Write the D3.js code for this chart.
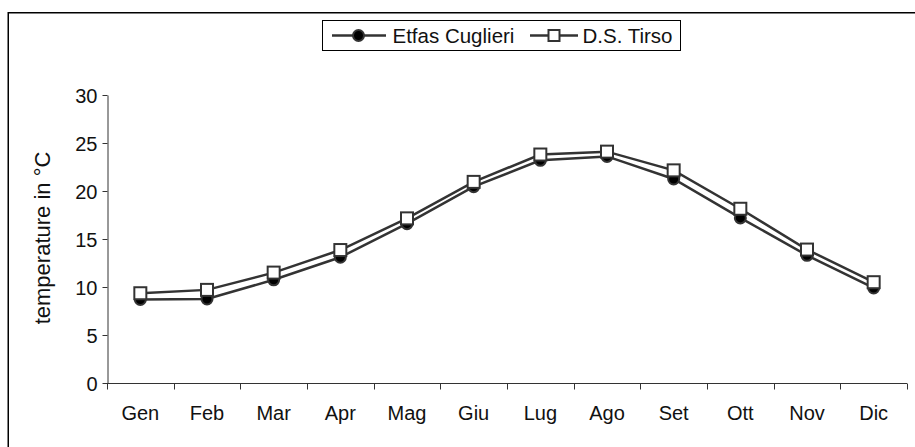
<!DOCTYPE html>
<html>
<head>
<meta charset="utf-8">
<script src="https://cdn.jsdelivr.net/npm/d3@7"></script>
<style>
  body { margin: 0; background: #fff; }
  svg { display: block; font-family: "Liberation Sans", Arial, sans-serif; }
</style>
</head>
<body>
<svg id="chart" width="915" height="447"></svg>
<script>
// DATA
var months = ['Gen', 'Feb', 'Mar', 'Apr', 'Mag', 'Giu', 'Lug', 'Ago', 'Set', 'Ott', 'Nov', 'Dic'];
var cuglieri = [8.7, 8.75, 10.75, 13.1, 16.6, 20.45, 23.2, 23.6, 21.25, 17.2, 13.3, 9.9];
var tirso = [9.35, 9.7, 11.5, 13.85, 17.15, 20.95, 23.8, 24.1, 22.15, 18.15, 13.9, 10.5];
var yTicks = [0, 5, 10, 15, 20, 25, 30];

var svg = d3.select('#chart');
var lineColor = '#333333';

// Outer frame (runs off the right/bottom edges)
svg.append('rect')
   .attr('x', 8.25)
   .attr('y', 12.75)
   .attr('width', 960)
   .attr('height', 500)
   .style('fill', 'none')
   .style('stroke', '#000')
   .style('stroke-width', 1.5);

// SCALES
var x = d3.scaleBand()
          .domain(months)
          .range([107, 907])
          .padding(0);
var y = d3.scaleLinear()
          .domain([0, 30])
          .range([383, 95]);

// Y-AXIS
var yAxis = svg.append('g')
               .attr('transform', 'translate(107.5,0)')
               .call(d3.axisLeft(y).tickValues(yTicks).tickSize(5).tickSizeOuter(0).tickPadding(5));
yAxis.select('.domain').attr('stroke', lineColor);
yAxis.selectAll('.tick line').attr('stroke', lineColor);
yAxis.selectAll('text')
     .style('font-size', '20px')
     .style('fill', '#111')
     .attr('dy', '0.36em');

// X-AXIS (ticks at category boundaries)
var xAxisG = svg.append('g').attr('transform', 'translate(0,383.5)');
xAxisG.append('line')
      .attr('x1', x.range()[0])
      .attr('x2', x.range()[1])
      .attr('stroke', lineColor);
var bounds = months.map(function(d) { return x(d); }).concat([x.range()[1]]);
xAxisG.selectAll('line.bound')
      .data(bounds)
      .enter()
      .append('line')
      .attr('class', 'bound')
      .attr('x1', function(d) { return Math.round(d) + 0.5; })
      .attr('x2', function(d) { return Math.round(d) + 0.5; })
      .attr('y1', 0)
      .attr('y2', 6)
      .attr('stroke', lineColor);
xAxisG.selectAll('text')
      .data(months)
      .enter()
      .append('text')
      .attr('x', function(d) { return x(d) + x.bandwidth() / 2; })
      .attr('y', 36.5)
      .attr('text-anchor', 'middle')
      .style('font-size', '20px')
      .style('fill', '#111')
      .text(function(d) { return d; });

// Y-axis title
svg.append('text')
   .attr('transform', 'translate(50,238) rotate(-90)')
   .attr('text-anchor', 'middle')
   .style('font-size', '22px')
   .style('fill', '#111')
   .text('temperature in °C');

// LINES
var lineGen = d3.line()
                .x(function(d, i) { return x(months[i]) + x.bandwidth() / 2; })
                .y(function(d) { return y(d); });

svg.append('path')
   .attr('d', lineGen(cuglieri))
   .style('fill', 'none')
   .style('stroke', lineColor)
   .style('stroke-width', 2.5);
svg.append('path')
   .attr('d', lineGen(tirso))
   .style('fill', 'none')
   .style('stroke', lineColor)
   .style('stroke-width', 2.5);

// Markers: circles (Etfas Cuglieri) under squares (D.S. Tirso)
svg.selectAll('circle.cug')
   .data(cuglieri)
   .enter()
   .append('circle')
   .attr('class', 'cug')
   .attr('cx', function(d, i) { return x(months[i]) + x.bandwidth() / 2; })
   .attr('cy', function(d) { return y(d); })
   .attr('r', 5.5)
   .style('fill', '#000')
   .style('stroke', lineColor)
   .style('stroke-width', 2);

svg.selectAll('rect.tir')
   .data(tirso)
   .enter()
   .append('rect')
   .attr('class', 'tir')
   .attr('x', function(d, i) { return x(months[i]) + x.bandwidth() / 2 - 6; })
   .attr('y', function(d) { return y(d) - 6; })
   .attr('width', 12)
   .attr('height', 12)
   .style('fill', '#fff')
   .style('stroke', lineColor)
   .style('stroke-width', 2);

// LEGEND
var legend = svg.append('g');
legend.append('rect')
      .attr('x', 322.5)
      .attr('y', 20.5)
      .attr('width', 358)
      .attr('height', 30)
      .style('fill', '#fff')
      .style('stroke', '#000')
      .style('stroke-width', 1);

legend.append('line')
      .attr('x1', 332).attr('x2', 386)
      .attr('y1', 35.5).attr('y2', 35.5)
      .style('stroke', lineColor)
      .style('stroke-width', 2.5);
legend.append('circle')
      .attr('cx', 358.5).attr('cy', 35.5).attr('r', 5.5)
      .style('fill', '#000')
      .style('stroke', lineColor)
      .style('stroke-width', 2);
legend.append('text')
      .attr('x', 392.5).attr('y', 43)
      .style('font-size', '20.5px')
      .style('fill', '#111')
      .text('Etfas Cuglieri');

legend.append('line')
      .attr('x1', 530).attr('x2', 578)
      .attr('y1', 35.5).attr('y2', 35.5)
      .style('stroke', lineColor)
      .style('stroke-width', 2.5);
legend.append('rect')
      .attr('x', 548.5).attr('y', 30).attr('width', 11).attr('height', 11)
      .style('fill', '#fff')
      .style('stroke', lineColor)
      .style('stroke-width', 2);
legend.append('text')
      .attr('x', 582.5).attr('y', 43)
      .style('font-size', '20.5px')
      .style('fill', '#111')
      .text('D.S. Tirso');
</script>
</body>
</html>
